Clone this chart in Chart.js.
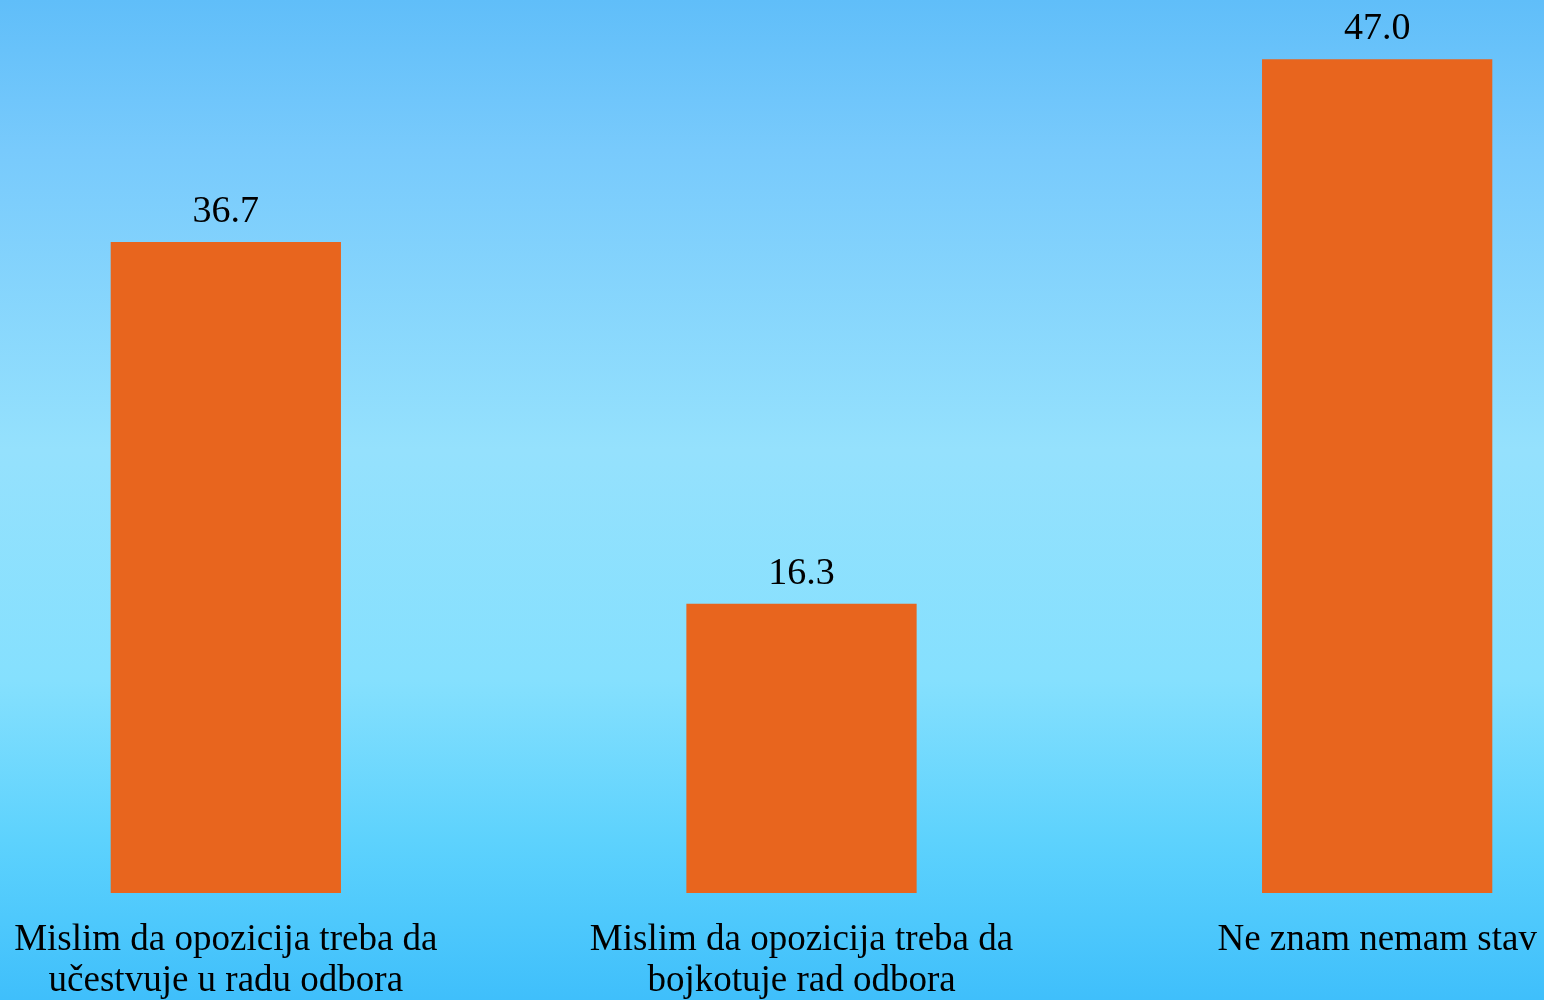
<!DOCTYPE html>
<html>
<head>
<meta charset="utf-8">
<script src="https://cdn.jsdelivr.net/npm/chart.js@4.4.1/dist/chart.umd.min.js"></script>
<style>
  html, body { margin: 0; padding: 0; width: 1544px; height: 1000px; overflow: hidden; }
  body {
    position: relative;
    background: linear-gradient(to bottom,
      #60bef9 0%, #78cafc 15%, #95e1fd 45%, #85e0fe 68%, #5dd2fd 84%, #3fbffb 100%);
  }
  #wrap { position: absolute; left: -62px; top: 0; width: 1727px; height: 1000px; }
</style>
</head>
<body>
<div id="wrap"><canvas id="c" width="1727" height="1000"></canvas></div>
<script>
const categories = [
  ["Mislim da opozicija treba da", "učestvuje u radu odbora"],
  ["Mislim da opozicija treba da", "bojkotuje rad odbora"],
  "Ne znam nemam stav"
];
const values = [36.7, 16.3, 47.0];

const valueLabels = {
  id: 'valueLabels',
  afterDatasetsDraw(chart) {
    const ctx = chart.ctx;
    const meta = chart.getDatasetMeta(0);
    ctx.save();
    ctx.fillStyle = '#000';
    ctx.font = '38px "Liberation Serif", "Times New Roman", serif';
    ctx.textAlign = 'center';
    ctx.textBaseline = 'alphabetic';
    meta.data.forEach((bar, i) => {
      ctx.fillText(values[i].toFixed(1), bar.x, bar.y - 20);
    });
    ctx.restore();
  }
};

new Chart(document.getElementById('c'), {
  type: 'bar',
  data: {
    labels: categories,
    datasets: [{
      data: values,
      backgroundColor: '#e8651e',
      borderWidth: 0,
      barPercentage: 0.4,
      categoryPercentage: 1.0
    }]
  },
  options: {
    responsive: false,
    animation: false,
    layout: { padding: { top: 6, left: 0, right: 0, bottom: 0 } },
    plugins: { legend: { display: false }, tooltip: { enabled: false } },
    scales: {
      x: {
        offset: true,
        grid: { display: false, drawTicks: false },
        border: { display: false },
        ticks: {
          color: '#000',
          padding: 27,
          maxRotation: 0,
          autoSkip: false,
          font: { family: '"Liberation Serif", "Times New Roman", serif', size: 37, lineHeight: 1.11 }
        },
        afterFit(scale) { scale.height = 107; }
      },
      y: {
        display: false,
        min: 0,
        max: 50
      }
    }
  },
  plugins: [valueLabels]
});
</script>
</body>
</html>
